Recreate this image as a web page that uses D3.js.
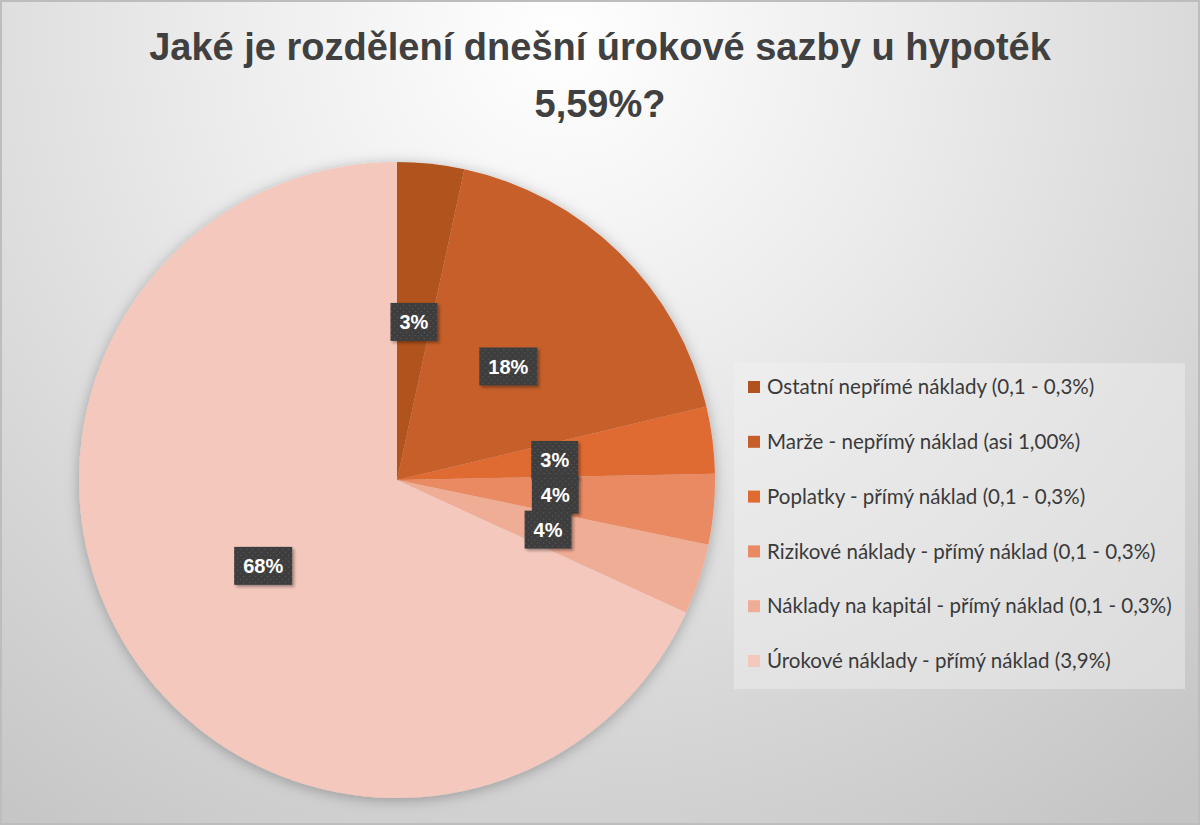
<!DOCTYPE html>
<html>
<head>
<meta charset="utf-8">
<script src="https://cdn.jsdelivr.net/npm/d3@7"></script>
<style>
  html, body { margin: 0; padding: 0; background: #fff; }
  svg { display: block; }
</style>
</head>
<body>
<div id="chart"></div>
<script>
// rate components (% p.a.), total 5,59 %
const categories = [
    "Ostatní nepřímé náklady (0,1 - 0,3%)",
    "Marže - nepřímý náklad (asi 1,00%)",
    "Poplatky - přímý náklad (0,1 - 0,3%)",
    "Rizikové náklady - přímý náklad (0,1 - 0,3%)",
    "Náklady na kapitál - přímý náklad (0,1 - 0,3%)",
    "Úrokové náklady - přímý náklad (3,9%)"
];
const values = [0.19, 1.0, 0.19, 0.2, 0.2, 3.81];
const colors = ["#b0531f", "#c65e2a", "#df6b31", "#ea8a63", "#f0ad96", "#f4c8bd"];
const titleLines = ["Jaké je rozdělení dnešní úrokové sazby u hypoték", "5,59%?"];

const W = 1200, H = 825;
const cx = 397, cy = 480, radius = 318;

const svg = d3.select("#chart").append("svg")
    .attr("width", W)
    .attr("height", H);

const defs = svg.append("defs");

// background
const bg = defs.append("radialGradient")
    .attr("id", "bg")
    .attr("gradientUnits", "userSpaceOnUse")
    .attr("cx", 560).attr("cy", 40).attr("r", 980);
bg.append("stop").attr("offset", "0").attr("stop-color", "#ffffff");
bg.append("stop").attr("offset", "0.35").attr("stop-color", "#ececec");
bg.append("stop").attr("offset", "1").attr("stop-color", "#c4c4c4");

const shadow = defs.append("filter").attr("id", "pieShadow")
    .attr("x", "-20%").attr("y", "-20%").attr("width", "140%").attr("height", "140%");
shadow.append("feDropShadow")
    .attr("dx", 0).attr("dy", 2).attr("stdDeviation", 7)
    .attr("flood-color", "#000").attr("flood-opacity", 0.28);

const lblShadow = defs.append("filter").attr("id", "lblShadow")
    .attr("x", "-30%").attr("y", "-30%").attr("width", "160%").attr("height", "160%");
lblShadow.append("feDropShadow")
    .attr("dx", 2).attr("dy", 2).attr("stdDeviation", 1.5)
    .attr("flood-color", "#000").attr("flood-opacity", 0.35);

// dotted dark fill of the data labels
const pat = defs.append("pattern")
    .attr("id", "dots")
    .attr("patternUnits", "userSpaceOnUse")
    .attr("width", 6).attr("height", 6);
pat.append("rect").attr("width", 6).attr("height", 6).attr("fill", "#3d3d3d");
pat.append("circle").attr("cx", 1.5).attr("cy", 1.5).attr("r", 0.8).attr("fill", "#585858");
pat.append("circle").attr("cx", 4.5).attr("cy", 4.5).attr("r", 0.8).attr("fill", "#585858");

svg.append("rect")
    .attr("width", W).attr("height", H)
    .attr("fill", "url(#bg)");
svg.append("rect")
    .attr("x", 1).attr("y", 1)
    .attr("width", W - 2).attr("height", H - 2)
    .attr("fill", "none")
    .attr("stroke", "#bdbdbd")
    .attr("stroke-width", 2);

// title
svg.append("g")
    .selectAll("text")
    .data(titleLines)
    .join("text")
    .attr("x", 600)
    .attr("y", (d, i) => 60 + i * 57)
    .attr("text-anchor", "middle")
    .attr("font-family", "'Liberation Sans', Arial, sans-serif")
    .attr("font-weight", "bold")
    .attr("font-size", 38)
    .attr("fill", "#404040")
    .text(d => d);

// pie
const pie = d3.pie().sort(null).value(d => d);
const arcs = pie(values);
const arc = d3.arc().innerRadius(0).outerRadius(radius);

const g = svg.append("g").attr("transform", `translate(${cx},${cy})`);

g.append("g")
    .attr("filter", "url(#pieShadow)")
    .selectAll("path")
    .data(arcs)
    .join("path")
    .attr("d", arc)
    .attr("fill", (d, i) => colors[i]);

// data labels
const total = d3.sum(values);
const labels = g.append("g")
    .selectAll("g")
    .data(arcs)
    .join("g")
    .attr("transform", d => `translate(${arc.centroid(d)})`);

labels.append("text")
    .attr("text-anchor", "middle")
    .attr("dy", "0.36em")
    .attr("font-family", "'Liberation Sans', Arial, sans-serif")
    .attr("font-weight", "bold")
    .attr("font-size", 20)
    .attr("fill", "#fff")
    .text(d => Math.round(d.value / total * 100) + "%");

labels.each(function () {
    const el = d3.select(this);
    const w = el.select("text").node().getComputedTextLength() + 18;
    el.insert("rect", "text")
        .attr("x", -w / 2).attr("y", -19)
        .attr("width", w).attr("height", 38)
        .attr("fill", "url(#dots)")
        .attr("filter", "url(#lblShadow)");
});

// legend
const legend = svg.append("g");
legend.append("rect")
    .attr("x", 734).attr("y", 363)
    .attr("width", 451).attr("height", 326)
    .attr("fill", "#f2f2f2")
    .attr("fill-opacity", 0.45);

const rows = legend.selectAll("g.row")
    .data(categories)
    .join("g")
    .attr("class", "row")
    .attr("transform", (d, i) => `translate(748,${387 + i * 54.8})`);

rows.append("rect")
    .attr("y", -6)
    .attr("width", 12).attr("height", 12)
    .attr("fill", (d, i) => colors[i]);

const legText = rows.append("text")
    .attr("x", 19)
    .attr("dy", "0.35em")
    .attr("font-family", "Lato, 'Open Sans', sans-serif")
    .attr("font-size", 19)
    .attr("fill", "#3a3a3a")
    .text(d => d);

// fit longest entry to the reference width
const longest = d3.max(legText.nodes(), n => n.getComputedTextLength());
legText.attr("font-size", 19 * 405 / longest);
</script>
</body>
</html>
